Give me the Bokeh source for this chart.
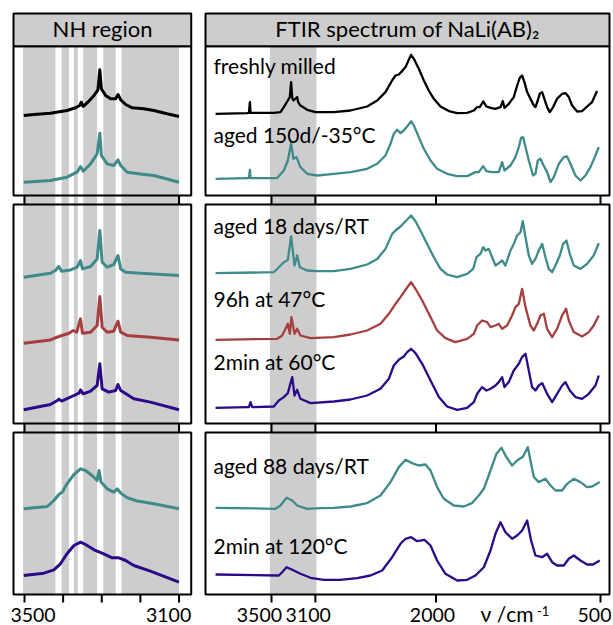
from bokeh.plotting import figure
from bokeh.layouts import row
from bokeh.models import Range1d
from bokeh.embed import file_html
from bokeh.resources import INLINE
from bokeh.core.properties import value

FONT = "Lato"
GREY = "#cdcdcd"
COLORS = ["#000000", "#3f8b8a", "#3f8b8a", "#a63f3f", "#2b0a8a", "#3f8b8a", "#2b0a8a"]

labels = ["freshly milled", "aged 150d/-35°C", "aged 18 days/RT", "96h at 47°C",
          "2min at 60°C", "aged 88 days/RT", "2min at 120°C"]

# ---------------- full FTIR spectra: wavenumber (cm-1) / absorbance (a.u.) ----------------
fresh_wn = [4010, 3722, 3706, 3697, 3691, 3479, 3418, 3388, 3351, 3333, 3321, 3311, 3300, 3266, 3257,
            3236, 3175, 3099, 2932, 2780, 2628, 2536, 2461, 2400, 2369, 2339, 2309, 2278, 2248, 2227,
            2202, 2157, 2111, 2066, 2020, 1959, 1883, 1807, 1716, 1655, 1625, 1601, 1570, 1540, 1503,
            1458, 1412, 1391, 1376, 1336, 1291, 1260, 1236, 1215, 1194, 1169, 1139, 1108, 1093, 1072,
            1054, 1032, 1017, 987, 962, 932, 896, 850, 820, 789, 759, 713, 668, 622, 577, 531]
fresh_ab = [0, .007, .01, .117, .01, .01, .017, .067, .133, .167, .317, .16, .133, .167, .117,
            .083, .04, .017, .017, .033, .073, .133, .217, .333, .383, .393, .427, .467, .54, .59,
            .55, .45, .333, .233, .15, .073, .027, .007, .01, .033, .067, .067, .123, .073, .06,
            .05, .067, .127, .06, .1, .167, .283, .36, .383, .317, .217, .15, .083, .067, .133,
            .2, .217, .167, .067, .017, .067, .15, .2, .207, .167, .083, .023, .027, .073, .117, .227]

aged150_wn = [4010, 3722, 3706, 3697, 3691, 3448, 3388, 3351, 3321, 3300, 3272, 3236, 3175, 3083, 2932,
              2780, 2628, 2536, 2461, 2415, 2385, 2354, 2324, 2294, 2263, 2227, 2202, 2157, 2111, 2050,
              1990, 1899, 1807, 1716, 1640, 1610, 1570, 1540, 1488, 1428, 1397, 1376, 1321, 1276, 1245,
              1224, 1206, 1184, 1154, 1115, 1093, 1072, 1048, 1023, 987, 956, 926, 880, 835, 805,
              774, 729, 683, 637, 592, 546, 516]
aged150_ab = [0, .007, .007, .09, .007, .007, .083, .183, .357, .2, .217, .117, .05, .033, .05,
              .067, .1, .15, .233, .35, .45, .49, .457, .483, .523, .577, .533, .417, .3, .183,
              .1, .05, .027, .027, .067, .067, .127, .077, .067, .067, .167, .083, .133, .217, .317,
              .41, .417, .317, .183, .033, .05, .183, .2, .143, .067, -.033, .017, .15, .217, .223,
              .15, .033, -.017, .033, .117, .233, .317]

aged18_wn = [4010, 3479, 3433, 3388, 3351, 3321, 3290, 3266, 3242, 3175, 3083, 2932, 2780, 2628, 2536,
             2461, 2400, 2369, 2324, 2278, 2227, 2187, 2142, 2081, 2020, 1959, 1899, 1807, 1716, 1661,
             1631, 1595, 1570, 1549, 1519, 1488, 1458, 1428, 1397, 1367, 1321, 1291, 1260, 1230, 1209,
             1184, 1154, 1124, 1093, 1063, 1032, 1002, 972, 941, 911, 871, 841, 811, 780, 744,
             683, 622, 562, 516]
aged18_ab = [0, .01, .06, .11, .133, .367, .077, .177, .06, .027, .02, .02, .043, .087, .143,
             .243, .393, .427, .467, .52, .577, .52, .427, .293, .16, .043, -.013, -.04, -.007, .043,
             .16, .193, .26, .227, .243, .16, .077, .1, .127, .077, .227, .293, .377, .41, .52,
             .36, .177, .093, .143, .227, .293, .16, .043, .01, .077, .177, .293, .327, .193, .077,
             .043, .093, .177, .3]

h96_wn = [4010, 3448, 3403, 3372, 3351, 3333, 3318, 3290, 3266, 3236, 3144, 2932, 2780, 2628, 2506,
          2430, 2369, 2324, 2278, 2227, 2187, 2126, 2050, 1990, 1914, 1823, 1716, 1655, 1625, 1580,
          1534, 1503, 1458, 1428, 1397, 1352, 1306, 1276, 1245, 1215, 1184, 1139, 1108, 1078, 1048,
          1017, 987, 941, 896, 850, 814, 789, 744, 668, 607, 562, 516]
h96_ab = [0, .01, .043, .11, .16, .06, .227, .06, .11, .043, .017, .027, .053, .093, .16,
          .26, .36, .427, .5, .577, .51, .393, .227, .093, .017, -.023, .01, .06, .143, .193,
          .177, .127, .143, .16, .11, .143, .243, .327, .36, .51, .327, .143, .093, .16, .243,
          .26, .11, .027, .11, .243, .31, .193, .077, .033, .077, .143, .243]

m60_wn = [4010, 3722, 3706, 3691, 3676, 3479, 3433, 3388, 3351, 3311, 3290, 3266, 3236, 3144, 2932,
          2780, 2628, 2506, 2430, 2385, 2339, 2294, 2263, 2227, 2187, 2126, 2050, 1974, 1899, 1807,
          1716, 1655, 1625, 1580, 1540, 1503, 1458, 1428, 1397, 1376, 1336, 1291, 1245, 1215, 1184,
          1154, 1124, 1093, 1063, 1032, 987, 941, 896, 850, 820, 780, 729, 668, 607, 546, 516]
m60_ab = [0, .007, .007, .057, .007, .013, .073, .107, .147, .307, .123, .18, .09, .047, .063,
          .083, .123, .19, .29, .423, .48, .513, .557, .59, .547, .44, .273, .107, .013, -.02,
          0, .057, .14, .207, .173, .19, .223, .257, .307, .207, .257, .373, .44, .507, .54,
          .373, .207, .173, .223, .247, .14, .057, .14, .223, .257, .173, .107, .09, .14, .223, .323]

aged88_wn = [4010, 3463, 3418, 3363, 3311, 3266, 3175, 3053, 2932, 2780, 2628, 2506, 2415, 2339, 2278,
             2218, 2157, 2096, 2050, 1990, 1929, 1838, 1747, 1671, 1610, 1564, 1503, 1449, 1403, 1358,
             1306, 1260, 1206, 1163, 1133, 1108, 1063, 1002, 956, 911, 850, 805, 744, 683, 622,
             577, 507]
aged88_ab = [0, -.01, .023, .1, .073, .023, -.01, -.003, 0, .013, .047, .123, .257, .407, .48,
             .447, .423, .433, .373, .207, .09, .023, .013, .047, .123, .19, .373, .54, .6, .507,
             .423, .473, .513, .607, .44, .307, .257, .29, .223, .173, .173, .24, .29, .257, .207,
             .213, .257]

m120_wn = [4010, 3433, 3403, 3363, 3311, 3236, 3144, 3023, 2871, 2719, 2597, 2491, 2400, 2324, 2278,
           2227, 2172, 2105, 2050, 1990, 1914, 1807, 1716, 1640, 1564, 1503, 1458, 1412, 1367, 1306,
           1260, 1215, 1169, 1133, 1093, 1032, 987, 941, 896, 835, 789, 744, 683, 622, 568, 507]
m120_ab = [0, -.01, .023, .073, .047, .007, -.033, -.053, -.053, -.037, -.01, .04, .173, .307, .357,
           .373, .333, .347, .29, .14, .007, -.06, -.053, -.01, .073, .24, .407, .523, .423, .357,
           .39, .44, .54, .34, .19, .173, .207, .123, .09, .09, .157, .19, .14, .1, .1, .14]

# ---------------- NH stretching region, 3500-3100 cm-1 (a.u.) ----------------
nh_fresh_wn = [3502, 3476, 3433, 3390, 3368, 3357, 3353, 3348, 3336, 3320, 3310, 3305, 3301, 3290, 3277,
               3264, 3258, 3251, 3238, 3221, 3191, 3165, 3131, 3100]
nh_fresh_ab = [0, .01, .023, .05, .077, .1, .133, .09, .133, .2, .257, .457, .267, .2, .167,
               .167, .21, .157, .11, .077, .067, .05, .017, -.01]

nh_aged150_wn = [3502, 3433, 3390, 3364, 3355, 3348, 3329, 3312, 3305, 3301, 3286, 3269, 3258, 3251, 3234,
                 3200, 3165, 3100]
nh_aged150_ab = [0, .017, .05, .1, .157, .11, .183, .283, .49, .267, .183, .167, .223, .167, .1,
                 .083, .067, 0]

nh_aged18_wn = [3502, 3433, 3420, 3411, 3404, 3381, 3364, 3355, 3350, 3329, 3312, 3305, 3299, 3286, 3269,
                3258, 3251, 3238, 3200, 3100]
nh_aged18_ab = [0, .04, .067, .107, .06, .073, .1, .167, .083, .107, .183, .467, .15, .1, .127,
                .217, .083, .05, .04, .017]

nh_h96_wn = [3502, 3433, 3411, 3385, 3374, 3365, 3355, 3350, 3329, 3312, 3305, 3299, 3286, 3269, 3258,
             3251, 3234, 3174, 3100]
nh_h96_ab = [0, .033, .067, .1, .127, .11, .243, .1, .11, .177, .467, .16, .11, .12, .22,
             .11, .077, .06, .033]

nh_m60_wn = [3502, 3433, 3415, 3411, 3404, 3372, 3359, 3355, 3348, 3329, 3312, 3305, 3299, 3282, 3264,
             3258, 3251, 3217, 3174, 3100]
nh_m60_ab = [0, .053, .093, .107, .087, .143, .167, .2, .16, .187, .243, .46, .21, .177, .193,
             .253, .193, .11, .077, 0]

nh_aged88_wn = [3502, 3441, 3424, 3411, 3402, 3390, 3372, 3355, 3342, 3325, 3312, 3307, 3302, 3286, 3269,
                3260, 3251, 3234, 3208, 3165, 3100]
nh_aged88_ab = [0, .023, .083, .143, .167, .25, .343, .4, .383, .333, .283, .383, .267, .2, .167,
                .2, .157, .11, .077, .05, 0]

nh_m120_wn = [3502, 3450, 3424, 3407, 3390, 3372, 3355, 3342, 3320, 3295, 3273, 3256, 3238, 3217, 3174,
              3100]
nh_m120_ab = [0, .023, .057, .117, .217, .3, .333, .31, .257, .217, .177, .177, .15, .1, .043,
              -.067]

full_wn = [fresh_wn, aged150_wn, aged18_wn, h96_wn, m60_wn, aged88_wn, m120_wn]
full_ab = [fresh_ab, aged150_ab, aged18_ab, h96_ab, m60_ab, aged88_ab, m120_ab]
nh_wn = [nh_fresh_wn, nh_aged150_wn, nh_aged18_wn, nh_h96_wn, nh_m60_wn, nh_aged88_wn, nh_m120_wn]
nh_ab = [nh_fresh_ab, nh_aged150_ab, nh_aged18_ab, nh_h96_ab, nh_m60_ab, nh_aged88_ab, nh_m120_ab]

# vertical stacking of the traces (a.u.)
full_offset = [4.807, 4.157, 3.213, 2.547, 1.867, 0.867, 0.20]
nh_offset = [4.79, 4.123, 3.173, 2.513, 1.847, 0.857, 0.19]
label_y = [5.29, 4.60, 3.69, 2.96, 2.33, 1.29, 0.49]
title_y = 5.663

# panel geometry on the stacked axis
panel_bottom = [3.99, 1.71, 0.0]
panel_top = [5.483, 3.90, 1.62]
header_bottom, header_top = 5.483, 5.81
tick_len = 0.08
tick_label_y = -0.205
unit_y, unit_sup_y = -0.19, -0.165

# NH bands: grey background with white windows at the N-H peak positions
nh_grey = (3504, 3100)
nh_win_hi = [3420, 3385, 3362, 3312, 3264]
nh_win_lo = [3404, 3372, 3348, 3296, 3249]
ftir_grey = (3515, 3090)

# tick marks and where their labels sit
nh_ticks = [3500, 3400, 3300, 3200, 3100]
nh_gap_ticks = [3500, 3100]
nh_label_at = [3478, 3127]
nh_label_text = ["3500", "3100"]
ftir_ticks = [3500, 3100, 2000, 500]
ftir_label_at = [3610, 3165, 2032, 555]
ftir_label_text = ["3500", "3100", "2000", "500"]
unit_at, unit_sup_at = 1594, 1080


def column_figure(frame_w, border_l, border_r, x_start, x_end):
    p = figure(frame_width=frame_w, frame_height=614,
               min_border_left=border_l, min_border_right=border_r,
               min_border_top=11, min_border_bottom=0,
               x_range=Range1d(x_start, x_end), y_range=Range1d(-0.31, 5.83),
               x_axis_location=None, y_axis_location=None,
               output_backend="svg", toolbar_location=None)
    p.outline_line_color = None
    p.grid.visible = False
    p.background_fill_color = "white"
    p.border_fill_color = "white"
    return p


def frames(p, box_lo, box_hi, title, title_x, gap_ticks, bottom_ticks, label_at, label_text):
    p.quad(left=box_lo, right=box_hi, bottom=panel_bottom, top=panel_top,
           fill_color=None, line_color="black", line_width=2)
    p.quad(left=box_lo, right=box_hi, bottom=header_bottom, top=header_top,
           fill_color=GREY, line_color="black", line_width=2)
    p.text(x=[title_x], y=[title_y], text=[title], text_font=value(FONT), text_font_size="22px",
           text_align="center", text_baseline="alphabetic", text_color="black")
    for b in panel_bottom[:2]:
        p.segment(x0=gap_ticks, y0=[b] * len(gap_ticks), x1=gap_ticks,
                  y1=[b - tick_len - 0.01] * len(gap_ticks), line_color="black", line_width=2)
    p.segment(x0=bottom_ticks, y0=[0] * len(bottom_ticks), x1=bottom_ticks,
              y1=[-tick_len] * len(bottom_ticks), line_color="black", line_width=2)
    p.text(x=label_at, y=[tick_label_y] * len(label_at), text=label_text, text_font=value(FONT),
           text_font_size="19.5px", text_align="center", text_baseline="alphabetic",
           text_color="black")


# ---------------- left column: NH region ----------------
left = column_figure(182, 11, 4, 3533.7, 3062.5)
left.quad(left=nh_grey[0], right=nh_grey[1], bottom=0, top=panel_top[0],
          fill_color=GREY, line_color=None)
left.quad(left=nh_win_hi, right=nh_win_lo, bottom=0, top=panel_top[0],
          fill_color="white", line_color=None)
frames(left, 3528.5, 3068.4, "NH region", 3298, nh_gap_ticks, nh_ticks, nh_label_at, nh_label_text)
for wn, ab, off, c in zip(nh_wn, nh_ab, nh_offset, COLORS):
    left.line(wn, [off + a for a in ab], line_color=c, line_width=3, line_join="round")

# ---------------- right column: full spectrum ----------------
right = column_figure(408, 6, 2, 4120.0, 399.8)
right.quad(left=ftir_grey[0], right=ftir_grey[1], bottom=0, top=panel_top[0],
           fill_color=GREY, line_color=None)
frames(right, 4101.8, 418.0, "FTIR spectrum of NaLi(AB)₂", 2260, ftir_ticks, ftir_ticks,
       ftir_label_at, ftir_label_text)
for wn, ab, off, c in zip(full_wn, full_ab, full_offset, COLORS):
    right.line(wn, [off + a for a in ab], line_color=c, line_width=2.3, line_join="round")
right.text(x=[4029] * len(labels), y=label_y, text=labels, text_font=value(FONT),
           text_font_size="21px", text_align="left", text_baseline="alphabetic", text_color="black")
# axis unit: wavenumber in cm^-1
right.text(x=[unit_at], y=[unit_y], text=["ν  /cm"], text_font=value(FONT), text_font_size="21px",
           text_align="left", text_baseline="alphabetic", text_color="black")
right.text(x=[unit_sup_at], y=[unit_sup_y], text=["-1"], text_font=value(FONT), text_font_size="13px",
           text_align="left", text_baseline="alphabetic", text_color="black")

layout = row(left, right, spacing=0)
open("out.html", "w").write(file_html(layout, INLINE))
